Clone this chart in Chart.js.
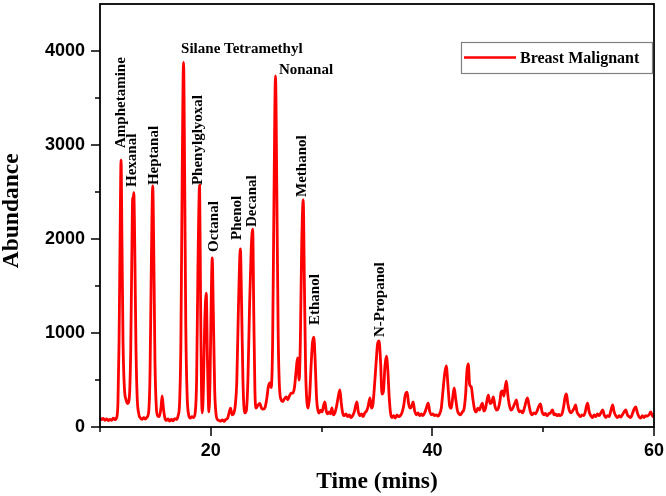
<!DOCTYPE html>
<html><head><meta charset="utf-8">
<script src="https://cdn.jsdelivr.net/npm/chart.js@4.4.1/dist/chart.umd.min.js"></script>
<style>html,body{margin:0;padding:0;background:#fff;}canvas{display:block;}</style>
</head><body>
<canvas id="c" width="666" height="496"></canvas>
<script>
// ---------- data ----------
const seriesName = 'Breast Malignant';
const xAxisTitle = 'Time (mins)';
const yAxisTitle = 'Abundance';
const timeMins = [
 10.00,10.15,10.30,10.45,10.60,10.75,10.90,11.05,11.20,11.35,
 11.50,11.62,11.72,11.82,11.90,11.98,12.08,12.20,12.35,12.50,
 12.65,12.77,12.88,12.95,13.00,13.05,13.14,13.24,13.35,13.50,
 13.65,13.80,13.95,14.10,14.25,14.40,14.52,14.64,14.76,14.86,
 14.96,15.08,15.20,15.35,15.50,15.61,15.72,15.85,16.00,16.15,
 16.30,16.45,16.60,16.75,16.90,17.05,17.18,17.30,17.42,17.54,
 17.64,17.74,17.86,18.00,18.15,18.30,18.45,18.60,18.72,18.84,
 18.99,19.08,19.16,19.23,19.33,19.45,19.59,19.70,19.83,19.93,
 20.03,20.13,20.23,20.35,20.48,20.60,20.75,20.90,21.05,21.20,
 21.35,21.50,21.65,21.78,21.92,22.05,22.20,22.35,22.50,22.67,
 22.78,22.90,23.05,23.20,23.35,23.50,23.65,23.78,23.88,23.98,
 24.08,24.25,24.42,24.58,24.75,24.90,25.05,25.18,25.32,25.45,
 25.58,25.70,25.84,25.96,26.08,26.20,26.35,26.50,26.65,26.80,
 26.95,27.10,27.25,27.40,27.55,27.70,27.83,27.97,28.08,28.20,
 28.34,28.45,28.56,28.68,28.79,28.92,29.05,29.18,29.30,29.42,
 29.55,29.68,29.78,29.92,30.05,30.18,30.30,30.42,30.55,30.70,
 30.82,30.93,31.05,31.20,31.35,31.50,31.65,31.78,31.90,32.05,
 32.20,32.35,32.50,32.65,32.80,32.95,33.08,33.19,33.30,33.45,
 33.60,33.75,33.90,34.05,34.20,34.37,34.50,34.62,34.75,34.90,
 35.05,35.19,35.32,35.45,35.58,35.72,35.85,35.98,36.10,36.22,
 36.35,36.50,36.65,36.80,36.95,37.10,37.25,37.40,37.55,37.72,
 37.85,38.00,38.12,38.26,38.40,38.55,38.70,38.85,39.00,39.15,
 39.30,39.45,39.62,39.75,39.90,40.05,40.20,40.35,40.50,40.65,
 40.80,40.95,41.10,41.25,41.40,41.55,41.70,41.85,41.97,42.10,
 42.25,42.40,42.55,42.70,42.85,43.00,43.12,43.24,43.36,43.51,
 43.65,43.80,43.95,44.10,44.25,44.40,44.51,44.65,44.80,44.92,
 45.05,45.20,45.35,45.50,45.65,45.80,45.95,46.10,46.20,46.32,
 46.45,46.56,46.68,46.80,46.95,47.10,47.25,47.40,47.58,47.72,
 47.85,48.00,48.15,48.30,48.45,48.58,48.72,48.85,49.00,49.15,
 49.30,49.45,49.60,49.75,49.90,50.05,50.20,50.35,50.50,50.65,
 50.84,50.98,51.10,51.25,51.40,51.55,51.70,51.85,51.98,52.10,
 52.22,52.35,52.50,52.65,52.80,52.92,53.05,53.20,53.35,53.50,
 53.65,53.80,53.90,54.01,54.15,54.30,54.45,54.60,54.75,54.90,
 55.05,55.20,55.37,55.50,55.65,55.80,55.95,56.10,56.27,56.40,
 56.55,56.70,56.85,57.00,57.15,57.30,57.45,57.60,57.75,57.90,
 58.05,58.20,58.35,58.50,58.65,58.80,58.95,59.10,59.25,59.40,
 59.55,59.71,59.85,60.00
];
const abundance = [
 100,78,92,70,85,68,80,72,95,78,
 100,260,900,2100,2840,2000,900,420,290,250,
 320,800,1900,2440,2420,2493,1900,900,330,140,
 95,82,100,85,105,170,600,1800,2564,1800,
 700,220,120,110,200,330,200,100,70,85,
 62,80,65,90,80,120,250,900,2700,3880,
 2700,1100,350,130,95,110,100,160,500,1700,
 2574,1300,400,150,400,1100,1425,700,160,500,
 1300,1798,1200,400,130,80,70,62,75,60,
 80,90,150,200,130,140,220,500,1300,1894,
 1300,500,150,170,500,1300,1900,2106,1200,400,
 200,230,250,200,190,210,300,420,468,420,
 900,2400,3734,2500,1000,420,290,270,300,320,
 290,330,360,360,420,600,734,500,900,1900,
 2415,1500,600,260,202,330,650,900,957,700,
 300,170,149,180,160,230,266,170,140,160,
 140,202,130,150,220,320,394,250,150,120,
 140,110,130,100,120,160,230,266,170,120,
 140,110,150,170,220,309,200,230,400,650,
 880,915,700,350,380,650,755,600,320,150,
 100,120,95,130,110,120,150,220,340,372,
 250,200,220,266,170,130,150,120,140,120,
 150,200,255,170,130,140,120,130,115,140,
 200,380,560,649,450,230,200,330,415,300,
 180,140,130,160,190,350,600,670,450,426,
 300,190,160,200,180,230,255,170,200,280,
 340,250,260,319,220,180,200,280,370,383,
 330,420,489,350,230,180,200,240,287,200,
 160,170,150,200,270,309,230,160,130,150,
 140,170,220,245,160,130,145,120,140,150,
 181,130,140,120,135,120,140,220,320,351,
 250,180,150,170,200,234,160,130,110,130,
 120,160,220,255,160,120,100,130,110,140,
 120,150,181,130,100,120,110,170,234,160,
 120,100,120,105,130,160,181,130,110,100,
 140,190,213,150,110,95,120,100,120,115,
 130,160,120,105
];
const xMajorTicks = [20, 40, 60];
const xTickLabels = ['20', '40', '60'];
const xMinorTicks = [10, 30, 50];
const yMajorTicks = [0, 1000, 2000, 3000, 4000];
const yTickLabels = ['0', '1000', '2000', '3000', '4000'];
const yMinorTicks = [500, 1500, 2500, 3500];
// peak annotations (text + data-space anchor)
const peakNames = ['Amphetamine','Hexanal','Heptanal','Silane Tetramethyl','Phenylglyoxal','Octanal','Phenol','Decanal','Nonanal','Methanol','Ethanol','N-Propanol'];
const peakLabelTime = [11.92,12.91,14.89,17.32,18.86,20.30,22.37,23.72,26.15,28.23,29.40,35.25];
const peakLabelAbund = [2968,2553,2574,4021,2574,1862,1989,2128,3798,2447,1085,957];
const peakLabelVertical = [true,true,true,false,true,true,true,true,false,true,true,true];

// ---------- drawing ----------
const RED = 'rgb(255,0,0)';
const decor = {
  id: 'decor',
  afterDraw(chart) {
    const {ctx, chartArea: a, scales: {x, y}} = chart;
    ctx.save();
    // frame
    ctx.strokeStyle = '#000';
    ctx.lineWidth = 1.8;
    ctx.strokeRect(a.left, a.top, a.right - a.left, a.bottom - a.top);
    // ticks
    ctx.lineWidth = 1.5;
    ctx.beginPath();
    yMajorTicks.forEach(v => { const p = Math.round(y.getPixelForValue(v)); ctx.moveTo(a.left, p); ctx.lineTo(a.left - 9, p); });
    yMinorTicks.forEach(v => { const p = Math.round(y.getPixelForValue(v)); ctx.moveTo(a.left, p); ctx.lineTo(a.left - 5, p); });
    xMajorTicks.forEach(v => { const p = Math.round(x.getPixelForValue(v)); ctx.moveTo(p, a.bottom); ctx.lineTo(p, a.bottom + 9); });
    xMinorTicks.forEach(v => { const p = Math.round(x.getPixelForValue(v)); ctx.moveTo(p, a.bottom); ctx.lineTo(p, a.bottom + 5); });
    ctx.stroke();
    // y-axis title
    ctx.fillStyle = '#000';
    ctx.font = 'bold 23.5px "Liberation Serif"';
    ctx.textAlign = 'center';
    ctx.textBaseline = 'middle';
    ctx.save();
    ctx.translate(12, y.getPixelForValue(2300));
    ctx.rotate(-Math.PI / 2);
    ctx.fillText(yAxisTitle, 0, 0);
    ctx.restore();
    // peak labels
    ctx.font = 'bold 15px "Liberation Serif"';
    ctx.textBaseline = 'middle';
    ctx.textAlign = 'left';
    peakNames.forEach((name, i) => {
      const px = x.getPixelForValue(peakLabelTime[i]);
      const py = y.getPixelForValue(peakLabelAbund[i]);
      ctx.save();
      if (peakLabelVertical[i]) { ctx.translate(px, py); ctx.rotate(-Math.PI / 2); ctx.fillText(name, 0, 0); }
      else { ctx.fillText(name, px, py); }
      ctx.restore();
    });
    // legend box
    const lr = a.right - 2, lw = 191, lt = a.top + 38, lh = 31, ll = lr - lw;
    ctx.fillStyle = '#fff';
    ctx.fillRect(ll, lt, lw, lh);
    ctx.strokeStyle = '#808080';
    ctx.lineWidth = 1.2;
    ctx.strokeRect(ll + 0.5, lt + 0.5, lw, lh);
    const ly = lt + lh / 2;
    ctx.strokeStyle = RED;
    ctx.lineWidth = 2.5;
    ctx.beginPath(); ctx.moveTo(ll + 3, ly); ctx.lineTo(ll + 55, ly); ctx.stroke();
    ctx.fillStyle = '#000';
    ctx.font = 'bold 16px "Liberation Serif"';
    ctx.textBaseline = 'middle';
    ctx.fillText(chart.data.datasets[0].label, ll + 59, ly + 1);
    ctx.restore();
  }
};

new Chart(document.getElementById('c'), {
  type: 'line',
  data: {
    datasets: [{
      label: seriesName,
      data: timeMins.map((t, i) => ({x: t, y: abundance[i]})),
      borderColor: RED,
      borderWidth: 2.8,
      pointRadius: 0,
      cubicInterpolationMode: 'monotone',
      fill: false
    }]
  },
  options: {
    responsive: false,
    animation: false,
    devicePixelRatio: 1,
    layout: {padding: {top: 4, right: 12, left: 0, bottom: 0}},
    plugins: {legend: {display: false}, tooltip: {enabled: false}},
    scales: {
      x: {
        type: 'linear', min: 10, max: 60,
        afterBuildTicks: s => { s.ticks = xMajorTicks.map(v => ({value: v})); },
        afterFit: s => { s.height = 69; s.paddingLeft = 0; s.paddingRight = 0; },
        ticks: {
          callback: (v) => { const i = xMajorTicks.indexOf(v); return i >= 0 ? xTickLabels[i] : ''; },
          font: {family: 'Liberation Sans', weight: 'bold', size: 18},
          color: '#000', padding: 13, maxRotation: 0, autoSkip: false
        },
        grid: {display: false, drawTicks: false},
        border: {display: false},
        title: {display: true, text: xAxisTitle, color: '#000',
          font: {family: 'Liberation Serif', weight: 'bold', size: 23.5}, padding: {top: 0, bottom: 0}}
      },
      y: {
        type: 'linear', min: 0, max: 4500,
        afterBuildTicks: s => { s.ticks = yMajorTicks.map(v => ({value: v})); },
        afterFit: s => { s.width = 100; s.paddingTop = 0; s.paddingBottom = 0; },
        ticks: {
          callback: (v) => { const i = yMajorTicks.indexOf(v); return i >= 0 ? yTickLabels[i] : ''; },
          font: {family: 'Liberation Sans', weight: 'bold', size: 18},
          color: '#000', padding: 15, autoSkip: false
        },
        grid: {display: false, drawTicks: false},
        border: {display: false},
        title: {display: false}
      }
    }
  },
  plugins: [decor]
});
</script>
</body></html>
